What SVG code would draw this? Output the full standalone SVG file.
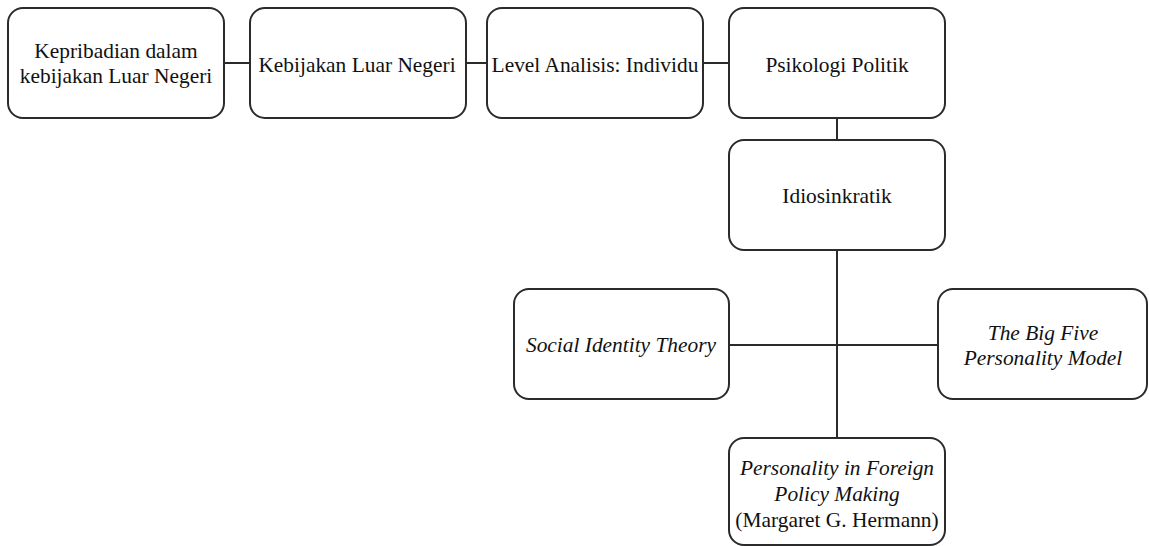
<svg xmlns="http://www.w3.org/2000/svg" width="1149" height="546" viewBox="0 0 1149 546">
<style>
.box{fill:#fff;stroke:#2b2b2b;stroke-width:2}
.t{font-family:'Liberation Serif','Times New Roman','DejaVu Serif',serif;font-size:21.4px;fill:#111;text-anchor:middle}
.i{font-style:italic}
.c{stroke:#2b2b2b;stroke-width:2;fill:none}
</style>
<rect width="1149" height="546" fill="#fff"/>
<g id="connectors">
<line class="c" x1="224" y1="63" x2="250" y2="63"/>
<line class="c" x1="466" y1="63" x2="487" y2="63"/>
<line class="c" x1="703" y1="63" x2="729" y2="63"/>
<line class="c" x1="837" y1="118" x2="837" y2="140"/>
<line class="c" x1="837" y1="250" x2="837" y2="438"/>
<line class="c" x1="729" y1="345" x2="938" y2="345"/>
</g>
<g id="n1">
<rect class="box" x="8" y="8" width="216" height="110" rx="15"/>
<text class="t" x="116" y="58">Kepribadian dalam</text>
<text class="t" x="116" y="83">kebijakan Luar Negeri</text>
</g>
<g id="n2">
<rect class="box" x="250" y="8" width="216" height="110" rx="15"/>
<text class="t" x="357" y="72">Kebijakan Luar Negeri</text>
</g>
<g id="n3">
<rect class="box" x="487" y="8" width="216" height="110" rx="15"/>
<text class="t" x="595" y="72">Level Analisis: Individu</text>
</g>
<g id="n4">
<rect class="box" x="729" y="8" width="216" height="110" rx="15"/>
<text class="t" x="837" y="72">Psikologi Politik</text>
</g>
<g id="n5">
<rect class="box" x="729" y="140" width="216" height="110" rx="15"/>
<text class="t" x="837" y="203">Idiosinkratik</text>
</g>
<g id="n6">
<rect class="box" x="514" y="289" width="215" height="110" rx="15"/>
<text class="t i" x="621" y="352">Social Identity Theory</text>
</g>
<g id="n7">
<rect class="box" x="938" y="289" width="209" height="110" rx="15"/>
<text class="t i" x="1043" y="340">The Big Five</text>
<text class="t i" x="1043" y="365">Personality Model</text>
</g>
<g id="n8">
<rect class="box" x="729" y="438" width="216" height="107" rx="15"/>
<text class="t i" x="837" y="475">Personality in Foreign</text>
<text class="t i" x="837" y="501">Policy Making</text>
<text class="t" x="837" y="527">(Margaret G. Hermann)</text>
</g>
</svg>
